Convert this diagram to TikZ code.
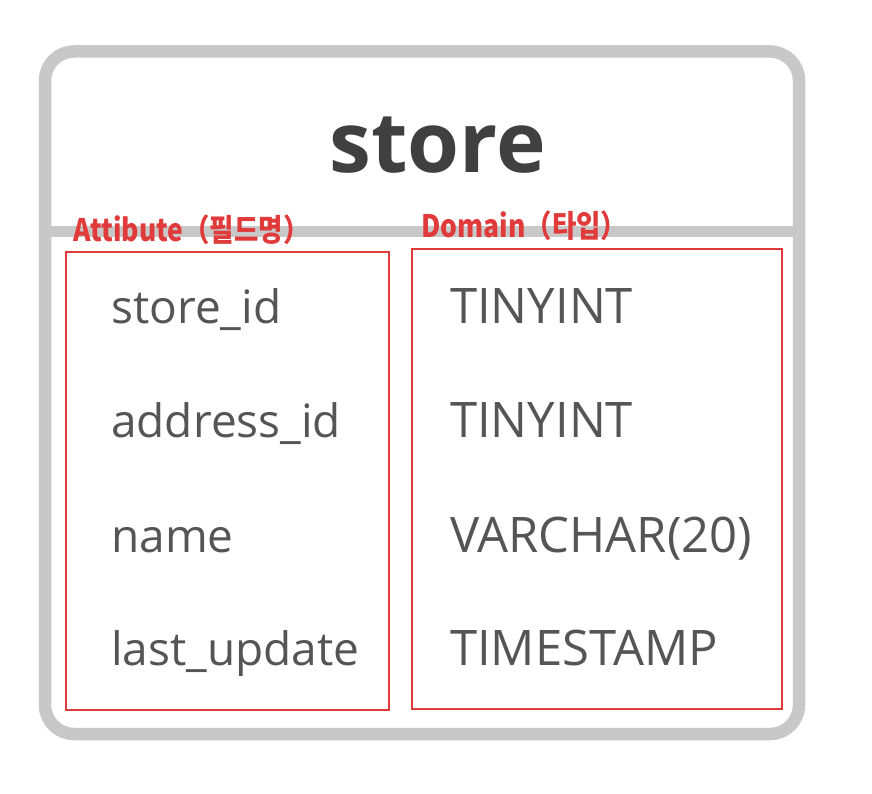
\documentclass[tikz,border=0pt]{standalone}
\usepackage{fontspec}
\setmainfont{Open Sans}
\newfontfamily\krfont{Noto Sans CJK KR}
\definecolor{frame}{HTML}{C8C8C8}
\definecolor{hl}{HTML}{E03A3A}
\definecolor{txt}{HTML}{555555}
\definecolor{ttl}{HTML}{404040}
\begin{document}
\begin{tikzpicture}[x=1pt,y=-1pt,
  field/.style={anchor=base west,inner sep=0pt,text=txt,font=\fontsize{49}{58}\selectfont},
  attrfield/.style={field,font=\fontsize{46}{55}\selectfont},
  lbl/.style={anchor=base west,inner sep=0pt,text=hl,font=\krfont\bfseries\fontsize{31}{36}\selectfont},
  redbox/.style={draw=hl,line width=2.2pt}]
\useasboundingbox (0,0) rectangle (872,794);
\fill[white] (0,0) rectangle (872,794);
% outer table frame
\draw[frame,line width=12.5pt,rounded corners=29] (45,51.5) rectangle (799,734);
\draw[frame,line width=11pt] (45,232) -- (799,232);
% title
\node[anchor=base,inner sep=0pt,text=ttl,font=\bfseries\fontsize{84}{98}\selectfont] (title) at (437.5,173) {store};
% red boxes
\draw[redbox] (66,252) rectangle (389,710);
\draw[redbox] (412,249) rectangle (782,709);
% labels
\node[lbl] (attr) at (73,242) {\scalebox{0.855}[1]{Attibute（필드명）}};
\node[lbl] (dom) at (421,238) {\scalebox{0.855}[1]{Domain（타입）}};
% fields
\node[attrfield] (f1) at (111,323) {store\_id};
\node[attrfield] (f2) at (111,437) {address\_id};
\node[attrfield] (f3) at (111,552) {name};
\node[attrfield] (f4) at (111,665) {last\_update};
\node[field] (d1) at (450,323) {TINYINT};
\node[field] (d2) at (450,437) {TINYINT};
\node[field] (d3) at (450,552) {VARCHAR(20)};
\node[field] (d4) at (450,665) {TIMESTAMP};
\end{tikzpicture}
\end{document}
